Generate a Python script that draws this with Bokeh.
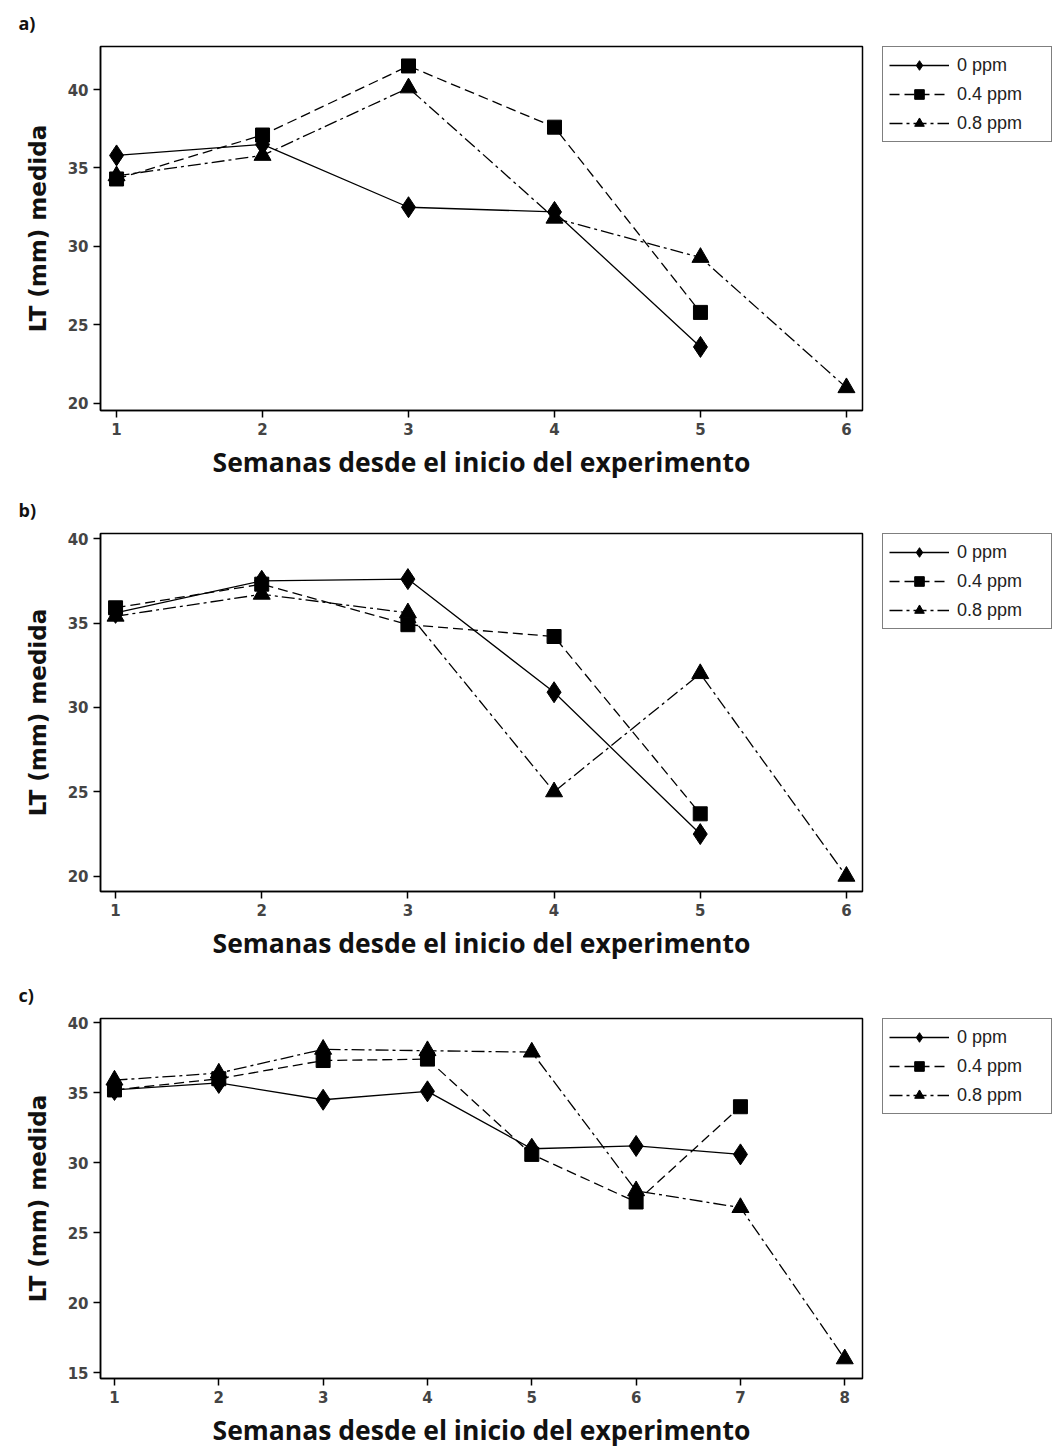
from bokeh.plotting import figure
from bokeh.models import Legend, LegendItem, FixedTicker, Range1d, Title
from bokeh.layouts import column, row
from bokeh.embed import file_html
from bokeh.resources import INLINE

series_names = ["0 ppm", "0.4 ppm", "0.8 ppm"]

# Panel a
a_weeks_0 = [1, 2, 3, 4, 5]
a_vals_0 = [35.8, 36.5, 32.5, 32.2, 23.6]
a_weeks_4 = [1, 2, 3, 4, 5]
a_vals_4 = [34.3, 37.1, 41.5, 37.6, 25.8]
a_weeks_8 = [1, 2, 3, 4, 5, 6]
a_vals_8 = [34.5, 35.8, 40.1, 31.8, 29.3, 21.0]

# Panel b
b_weeks_0 = [1, 2, 3, 4, 5]
b_vals_0 = [35.6, 37.5, 37.6, 30.9, 22.5]
b_weeks_4 = [1, 2, 3, 4, 5]
b_vals_4 = [35.9, 37.3, 34.9, 34.2, 23.7]
b_weeks_8 = [1, 2, 3, 4, 5, 6]
b_vals_8 = [35.4, 36.7, 35.6, 25.0, 32.0, 20.0]

# Panel c
c_weeks_0 = [1, 2, 3, 4, 5, 6, 7]
c_vals_0 = [35.2, 35.7, 34.5, 35.1, 31.0, 31.2, 30.6]
c_weeks_4 = [1, 2, 3, 4, 5, 6, 7]
c_vals_4 = [35.2, 36.0, 37.3, 37.4, 30.6, 27.2, 34.0]
c_weeks_8 = [1, 2, 3, 4, 5, 6, 7, 8]
c_vals_8 = [35.9, 36.4, 38.1, 38.0, 37.9, 28.0, 26.8, 16.0]

a_xticks = [1, 2, 3, 4, 5, 6]
a_yticks = [20, 25, 30, 35, 40]
b_xticks = [1, 2, 3, 4, 5, 6]
b_yticks = [20, 25, 30, 35, 40]
c_xticks = [1, 2, 3, 4, 5, 6, 7, 8]
c_yticks = [15, 20, 25, 30, 35, 40]

panel_labels = ["a)", "b)", "c)"]
x_title = "Semanas desde el inicio del experimento"
y_title = "LT (mm) medida"

FRAME_W = 762
LEFT = 100
RIGHT = 8
TOP = 46
MAIN_W = LEFT + FRAME_W + RIGHT
LEG_W = 1057 - MAIN_W

STYLES = [("solid", "diamond", 21), ("10 5", "square", 14), ("13 4 3 4", "triangle", 17)]


def make_panel(label, series, xticks, yticks, xr, yr, height, frame_h):
    bottom = height - TOP - frame_h
    p = figure(width=MAIN_W, height=height, output_backend="svg", toolbar_location=None,
               x_range=Range1d(*xr), y_range=Range1d(*yr),
               min_border_left=LEFT, min_border_right=RIGHT,
               min_border_top=TOP, min_border_bottom=bottom)
    p.grid.visible = False
    p.outline_line_color = "black"
    p.outline_line_width = 1.5
    p.background_fill_color = "white"
    p.border_fill_color = "white"

    for ax in (p.xaxis[0], p.yaxis[0]):
        ax.axis_line_color = "black"
        ax.axis_line_width = 1.5
        ax.major_tick_line_color = "black"
        ax.major_tick_line_width = 1.5
        ax.major_tick_out = 7
        ax.major_tick_in = 0
        ax.minor_tick_line_color = None
        ax.major_label_text_font = "DejaVu Sans"
        ax.major_label_text_font_style = "bold"
        ax.major_label_text_font_size = "15px"
        ax.major_label_text_color = "#444444"
    p.xaxis[0].ticker = FixedTicker(ticks=xticks)
    p.yaxis[0].ticker = FixedTicker(ticks=yticks)
    p.xaxis[0].major_label_standoff = 5
    p.yaxis[0].major_label_standoff = 5

    p.xaxis[0].axis_label = x_title
    p.xaxis[0].axis_label_text_font = "Open Sans"
    p.xaxis[0].axis_label_text_font_style = "bold"
    p.xaxis[0].axis_label_text_font_size = "26.5px"
    p.xaxis[0].axis_label_text_color = "#111111"
    p.xaxis[0].axis_label_standoff = 6

    p.yaxis[0].axis_label = y_title
    p.yaxis[0].axis_label_text_font = "DejaVu Sans"
    p.yaxis[0].axis_label_text_font_style = "bold"
    p.yaxis[0].axis_label_text_font_size = "23px"
    p.yaxis[0].axis_label_text_color = "#111111"
    p.yaxis[0].axis_label_standoff = 14

    for (name, xs, ys), (dash, marker, size) in zip(series, STYLES):
        p.line(xs, ys, line_color="black", line_width=1.3, line_dash=dash)
        p.scatter(xs, ys, marker=marker, size=size, fill_color="black", line_color="black")

    p.add_layout(Title(text=label, align="left", offset=-82, standoff=19,
                       vertical_align="top",
                       text_font="Open Sans", text_font_style="bold",
                       text_font_size="18px", text_color="#111111"), "above")

    # legend lives in a narrow companion figure to the right of the frame;
    # its series are drawn outside that figure's visible range
    lf = figure(width=LEG_W, height=height, output_backend="svg", toolbar_location=None,
                x_range=Range1d(-10, -9), y_range=Range1d(-10, -9),
                min_border_left=12, min_border_top=TOP - 1,
                min_border_right=0, min_border_bottom=0)
    lf.axis.visible = False
    lf.grid.visible = False
    lf.outline_line_color = None
    lf.background_fill_color = "white"
    lf.border_fill_color = "white"
    items = []
    for (name, xs, ys), (dash, marker, size) in zip(series, STYLES):
        ln = lf.line(xs, ys, line_color="black", line_width=1.3, line_dash=dash)
        sc = lf.scatter(xs, ys, marker=marker, size=size, fill_color="black", line_color="black")
        items.append(LegendItem(label=name, renderers=[ln, sc]))
    leg = Legend(items=items, location="top_left", margin=0,
                 glyph_width=60, glyph_height=24, spacing=5, padding=6,
                 label_standoff=8, label_width=88, label_height=24,
                 label_text_font="Liberation Sans", label_text_font_size="18px",
                 label_text_color="#222222",
                 border_line_color="black", border_line_width=1.5,
                 background_fill_color="white", background_fill_alpha=1.0)
    lf.add_layout(leg, "center")
    return row(p, lf, spacing=0)


r1 = make_panel(panel_labels[0],
                [(series_names[0], a_weeks_0, a_vals_0),
                 (series_names[1], a_weeks_4, a_vals_4),
                 (series_names[2], a_weeks_8, a_vals_8)],
                a_xticks, a_yticks, (0.89, 6.11), (19.55, 42.74), 487, 364)
r2 = make_panel(panel_labels[1],
                [(series_names[0], b_weeks_0, b_vals_0),
                 (series_names[1], b_weeks_4, b_vals_4),
                 (series_names[2], b_weeks_8, b_vals_8)],
                b_xticks, b_yticks, (0.897, 6.11), (19.1, 40.3), 485, 358)
r3 = make_panel(panel_labels[2],
                [(series_names[0], c_weeks_0, c_vals_0),
                 (series_names[1], c_weeks_4, c_vals_4),
                 (series_names[2], c_weeks_8, c_vals_8)],
                c_xticks, c_yticks, (0.866, 8.17), (14.6, 40.3), 478, 362)

layout = column(r1, r2, r3, spacing=0)
open("out.html", "w").write(file_html(layout, INLINE))
